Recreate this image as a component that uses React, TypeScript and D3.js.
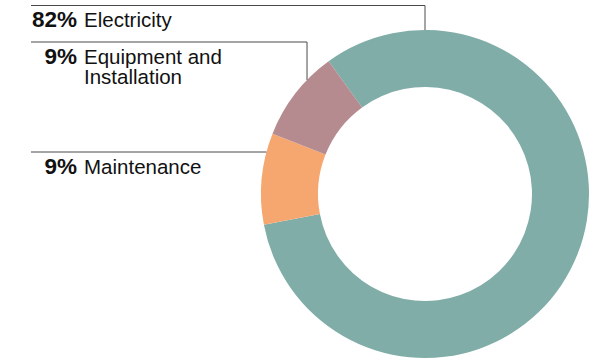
import React from "react";
import * as d3 from "d3";

const categories = ["Electricity", "Maintenance", "Equipment and Installation"];
const values = [82, 9, 9];
const percentLabels = ["82%", "9%", "9%"];
const labelLines = [["Electricity"], ["Maintenance"], ["Equipment and", "Installation"]];
const colors = ["#80ADA8", "#F6A76F", "#B68B90"];

const W = 595;
const H = 359;
const cx = 425;
const cy = 194;
const outerR = 164;
const innerR = 107;
const startDeg = -36;

// Leader layout (per category): y of horizontal rule, anchor angle on ring (deg), baseline of first text line
const ruleY = [5.5, 152, 42];
const anchorDeg = [0, -75.2, -46];
const textY = [27, 174, 64];

export default function App() {
  const pie = d3
    .pie<number>()
    .sort(null)
    .startAngle((startDeg * Math.PI) / 180)
    .endAngle((startDeg * Math.PI) / 180 + 2 * Math.PI);
  const arcs = pie(values);
  const arc = d3.arc<d3.PieArcDatum<number>>().innerRadius(innerR).outerRadius(outerR);

  const pt = (deg: number) => {
    const a = (deg * Math.PI) / 180;
    return [cx + outerR * Math.sin(a), cy - outerR * Math.cos(a)];
  };

  return (
    <svg
      width={W}
      height={H}
      style={{ position: "absolute", left: 0, top: 0 }}
      fontFamily="'Liberation Sans', Arial, Helvetica, sans-serif"
    >
      <g transform={`translate(${cx},${cy})`}>
        {arcs.map((d, i) => (
          <path key={categories[i]} d={arc(d) || ""} fill={colors[i]} />
        ))}
      </g>
      {categories.map((c, i) => {
        const [ax, ay] = pt(anchorDeg[i]);
        const y = ruleY[i];
        const pts = `31,${y} ${ax},${y} ${ax},${ay}`;
        return (
          <g key={c}>
            <polyline points={pts} fill="none" stroke="#4a4a4a" strokeWidth={1} />
            <text x={77} y={textY[i]} textAnchor="end" fontWeight="bold" fontSize={22.5} fill="#111">
              {percentLabels[i]}
            </text>
            <text x={84} y={textY[i]} fontSize={20.5} fill="#111">
              {labelLines[i].map((t, j) => (
                <tspan key={j} x={84} dy={j === 0 ? 0 : 20}>
                  {t}
                </tspan>
              ))}
            </text>
          </g>
        );
      })}
    </svg>
  );
}
